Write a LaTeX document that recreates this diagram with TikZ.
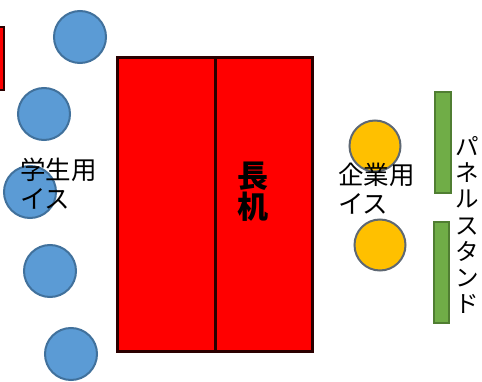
\documentclass[tikz,border=0pt]{standalone}
\usepackage{fontspec}
\setmainfont{Noto Sans CJK JP}
\definecolor{deskred}{HTML}{FF0000}
\definecolor{deskedge}{HTML}{2A0000}
\definecolor{seatblue}{HTML}{5B9BD5}
\definecolor{seatblueedge}{HTML}{41719C}
\definecolor{seatorange}{HTML}{FFC000}
\definecolor{seatorangeedge}{HTML}{5E6873}
\definecolor{panelgreen}{HTML}{70AD47}
\definecolor{panelgreenedge}{HTML}{507E32}
\tikzset{
  studentseat/.style={circle, fill=seatblue, draw=seatblueedge, line width=2pt, minimum size=52pt, inner sep=0pt},
  companyseat/.style={circle, fill=seatorange, draw=seatorangeedge, line width=2pt, minimum size=51pt, inner sep=0pt},
  panelbar/.style={fill=panelgreen, draw=panelgreenedge, line width=1.5pt},
  seatlabel/.style={font=\fontsize{25.5}{29}\selectfont, align=left, inner sep=0pt, anchor=north west}
}
\begin{document}
\begin{tikzpicture}[x=1pt, y=-1pt]
    \useasboundingbox (0,0) rectangle (482,382);
    \clip (0,0) rectangle (482,382);
    % Desk cut off at the left edge
    \draw[fill=deskred, draw=deskedge, line width=2pt] (-5,27) rectangle (4,90);
    % Long desk
    \draw[fill=deskred, draw=deskedge, line width=3pt] (117,58) rectangle (312,351);
    \draw[deskedge, line width=3pt] (215,58) -- (215,351);
    \node[font=\fontsize{31}{31}\selectfont\bfseries, align=center, inner sep=0pt] (desk) at (253,192) {長\\机};

    % Student chairs
    \node[studentseat] (s1) at (80,37) {};
    \node[studentseat] (s2) at (44,114) {};
    \node[studentseat] (s3) at (30,192) {};
    \node[studentseat] (s4) at (50,271) {};
    \node[studentseat] (s5) at (71,354) {};
    \node[seatlabel] (studentlabel) at (20,158) {学生用\\イス};

    % Company chairs
    \node[companyseat] (c1) at (375,146) {};
    \node[companyseat] (c2) at (380,245) {};
    \node[seatlabel] (companylabel) at (338,163) {企業用\\イス};

    % Panel stands
    \draw[panelbar] (435,92) rectangle (451,193);
    \draw[panelbar] (434,222) rectangle (449,323);
    \node[font=\fontsize{23.5}{26.3}\selectfont, align=center, inner sep=0pt] (panellabel) at (467,225) {パ\\ネ\\ル\\ス\\タ\\ン\\ド};
\end{tikzpicture}
\end{document}
